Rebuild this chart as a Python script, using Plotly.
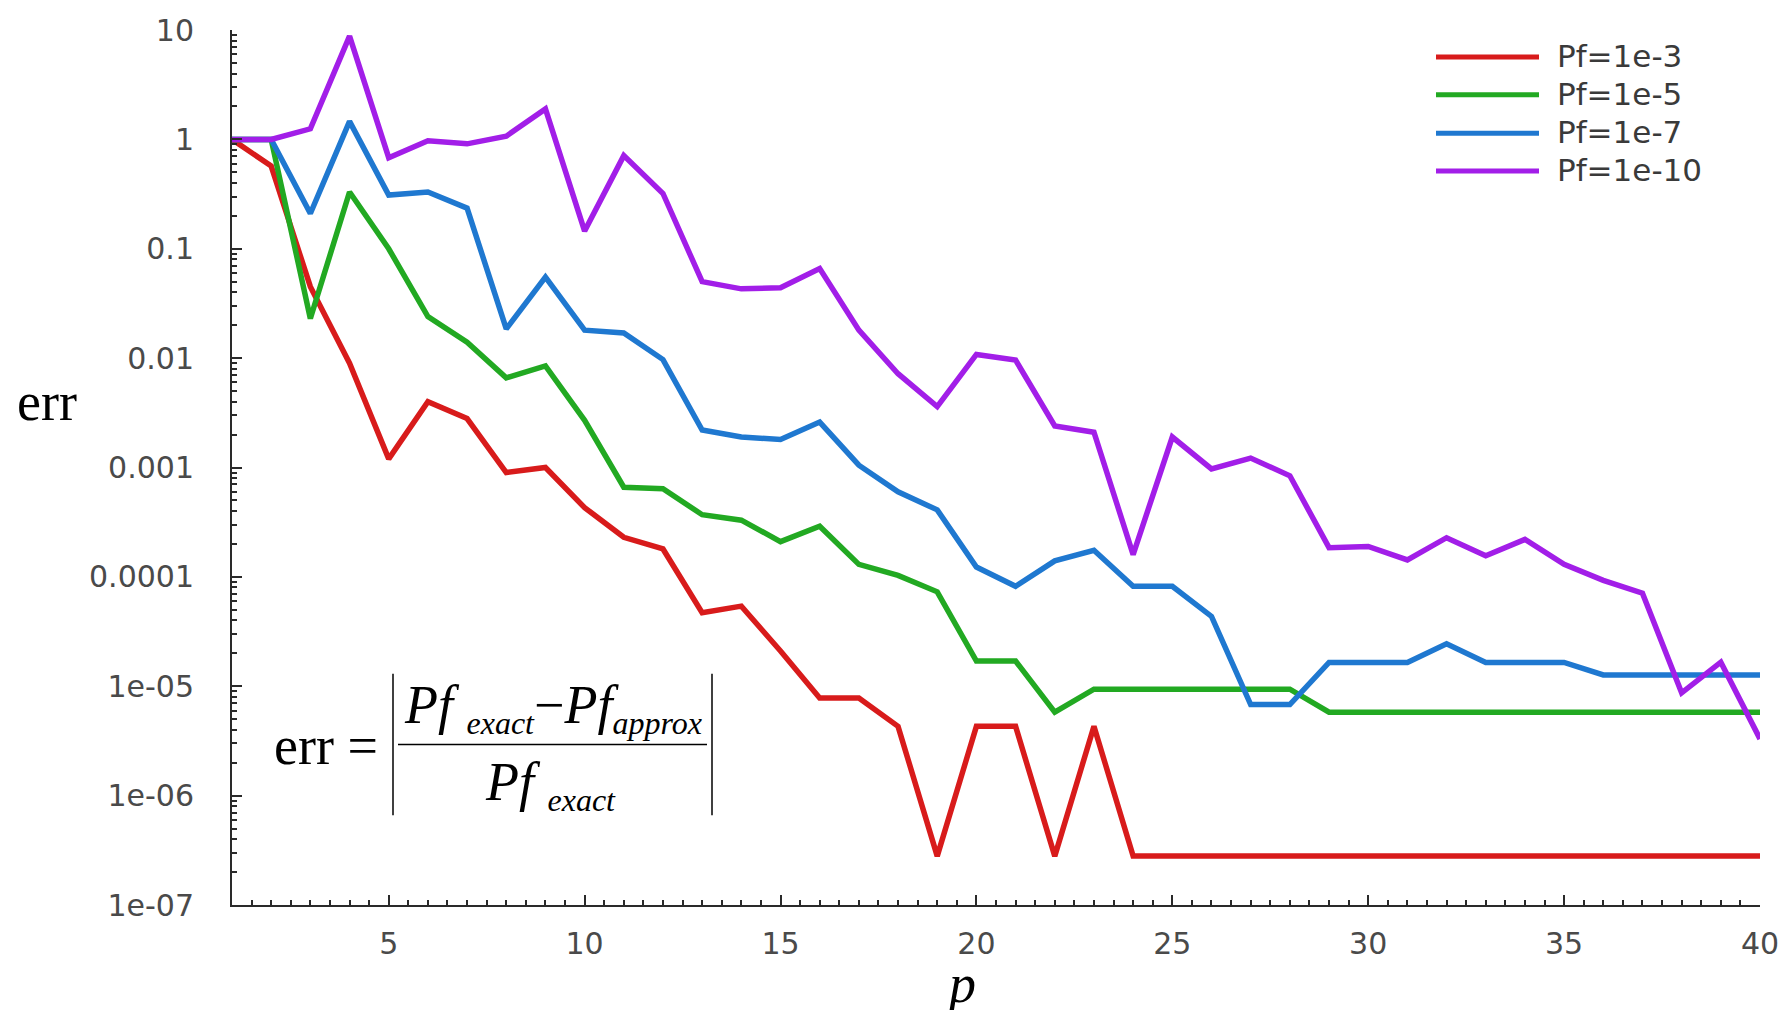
import plotly.graph_objects as go

# ---------------- data ----------------
p = list(range(1, 41))

err_1e3 = [1, 0.57, 0.045, 0.009, 0.0012, 0.004, 0.0028, 0.0009, 0.001, 0.00043,
           0.00023, 0.00018, 4.7e-5, 5.4e-5, 2.1e-5, 7.8e-6, 7.8e-6, 4.3e-6, 2.8e-7, 4.3e-6,
           4.3e-6, 2.8e-7, 4.3e-6, 2.8e-7, 2.8e-7, 2.8e-7, 2.8e-7, 2.8e-7, 2.8e-7, 2.8e-7,
           2.8e-7, 2.8e-7, 2.8e-7, 2.8e-7, 2.8e-7, 2.8e-7, 2.8e-7, 2.8e-7, 2.8e-7, 2.8e-7]

err_1e5 = [1, 1, 0.023, 0.33, 0.1, 0.024, 0.014, 0.0066, 0.0085, 0.0027,
           0.00066, 0.00064, 0.00037, 0.00033, 0.00021, 0.00029, 0.00013, 0.000103, 7.3e-5, 1.7e-5,
           1.7e-5, 5.8e-6, 9.4e-6, 9.4e-6, 9.4e-6, 9.4e-6, 9.4e-6, 9.4e-6, 5.8e-6, 5.8e-6,
           5.8e-6, 5.8e-6, 5.8e-6, 5.8e-6, 5.8e-6, 5.8e-6, 5.8e-6, 5.8e-6, 5.8e-6, 5.8e-6]

err_1e7 = [1, 1, 0.21, 1.46, 0.31, 0.33, 0.235, 0.0185, 0.055, 0.018,
           0.017, 0.0097, 0.0022, 0.0019, 0.0018, 0.0026, 0.00105, 0.0006, 0.00041, 0.000123,
           8.2e-5, 0.00014, 0.000175, 8.2e-5, 8.2e-5, 4.35e-5, 6.8e-6, 6.8e-6, 1.65e-5, 1.65e-5,
           1.65e-5, 2.45e-5, 1.65e-5, 1.65e-5, 1.65e-5, 1.27e-5, 1.27e-5, 1.27e-5, 1.27e-5, 1.27e-5]

err_1e10 = [1, 1, 1.25, 8.8, 0.68, 0.97, 0.91, 1.07, 1.9, 0.145,
            0.71, 0.32, 0.05, 0.043, 0.044, 0.066, 0.018, 0.0072, 0.0036, 0.0108,
            0.0096, 0.0024, 0.0021, 0.00016, 0.0019, 0.00097, 0.00122, 0.00084, 0.000185, 0.00019,
            0.000143, 0.000228, 0.000156, 0.00022, 0.00013, 9.3e-5, 7.1e-5, 8.7e-6, 1.66e-5, 3.3e-6]

series_names = ["Pf=1e-3", "Pf=1e-5", "Pf=1e-7", "Pf=1e-10"]
series_values = [err_1e3, err_1e5, err_1e7, err_1e10]
series_colors = ["#d81b1b", "#22a922", "#1f78d0", "#a21ee8"]

y_tick_vals = [10, 1, 0.1, 0.01, 0.001, 0.0001, 1e-5, 1e-6, 1e-7]
y_tick_text = ["10", "1", "0.1", "0.01", "0.001", "0.0001", "1e-05", "1e-06", "1e-07"]

# ---------------- layout geometry (pixels) ----------------
W, H = 1791, 1010
PL, PR, PT, PB = 232, 1760, 27, 905


def xp(px):
    return (px - PL) / (PR - PL)


def yp(py):
    return (PB - py) / (PB - PT)


fig = go.Figure()
for name, vals, col in zip(series_names, series_values, series_colors):
    fig.add_trace(go.Scatter(x=p, y=vals, mode="lines", name=name,
                             line=dict(color=col, width=5.5), showlegend=False))

axis_col = "#2a2a2a"
tick_font = dict(family="DejaVu Sans", size=30, color="#4a4a4a")

fig.update_layout(
    width=W, height=H,
    margin=dict(l=PL, r=W - PR, t=PT, b=H - PB, pad=0),
    paper_bgcolor="white", plot_bgcolor="white",
    xaxis=dict(range=[1, 40], tick0=0, dtick=5, showgrid=False, zeroline=False,
               showline=True, linecolor=axis_col, linewidth=2,
               ticks="inside", ticklen=10, tickwidth=2, tickcolor=axis_col,
               tickfont=tick_font, ticklabelstandoff=11,
               minor=dict(ticks="inside", ticklen=5, tickwidth=1.5, tickcolor=axis_col,
                          dtick=0.5, tick0=0, showgrid=False)),
    yaxis=dict(type="log", range=[-7, 1], tickmode="array", tickvals=y_tick_vals,
               ticktext=y_tick_text, showgrid=False, zeroline=False,
               showline=True, linecolor=axis_col, linewidth=2,
               ticks="inside", ticklen=10, tickwidth=2, tickcolor=axis_col,
               tickfont=tick_font, ticklabelstandoff=30,
               minor=dict(ticks="inside", ticklen=5, tickwidth=1.5, tickcolor=axis_col,
                          dtick="D1", showgrid=False)),
)

annotations = []
shapes = []

# axis titles
annotations.append(dict(text="err", x=xp(47), y=yp(400), xref="paper", yref="paper",
                        xanchor="center", yanchor="middle", showarrow=False,
                        font=dict(family="Liberation Serif", size=54, color="black")))
annotations.append(dict(text="<i>p</i>", x=xp(960), y=yp(984.5), xref="paper", yref="paper",
                        xanchor="center", yanchor="middle", showarrow=False,
                        font=dict(family="Liberation Serif", size=54, color="black")))

# legend (drawn manually for long line samples)
leg_y = [54, 92, 130.5, 168.5]
for name, col, ly in zip(series_names, series_colors, leg_y):
    shapes.append(dict(type="line", xref="paper", yref="paper",
                       x0=xp(1436), x1=xp(1539), y0=yp(ly), y1=yp(ly),
                       line=dict(color=col, width=5)))
    annotations.append(dict(text=name, x=xp(1555), y=yp(ly - 1), xref="paper", yref="paper",
                            xanchor="left", yanchor="middle", showarrow=False,
                            font=dict(family="DejaVu Sans", size=31, color="#3a3a3a")))

# formula
serif = dict(family="Liberation Serif", size=54, color="black")


def sub(t):
    return "<sub><span style='font-size:32px'><i>" + t + "</i></span></sub>"


annotations.append(dict(text="err =", x=xp(380), y=yp(745), xref="paper", yref="paper",
                        xanchor="right", yanchor="middle", showarrow=False, font=serif))
annotations.append(dict(text="<i>Pf</i> " + sub("exact") + "\u2212<i>Pf</i>" + sub("approx"),
                        x=xp(553), y=yp(707), xref="paper", yref="paper",
                        xanchor="center", yanchor="middle", showarrow=False, font=serif))
annotations.append(dict(text="<i>Pf</i> " + sub("exact"),
                        x=xp(550), y=yp(785), xref="paper", yref="paper",
                        xanchor="center", yanchor="middle", showarrow=False, font=serif))
shapes.append(dict(type="line", xref="paper", yref="paper", x0=xp(398), x1=xp(707),
                   y0=yp(744), y1=yp(744), line=dict(color="black", width=1.5)))
for bx in (393, 712):
    shapes.append(dict(type="line", xref="paper", yref="paper", x0=xp(bx), x1=xp(bx),
                       y0=yp(673), y1=yp(815), line=dict(color="black", width=1.5)))

fig.update_layout(annotations=annotations, shapes=shapes)

fig.write_html("out.html")
